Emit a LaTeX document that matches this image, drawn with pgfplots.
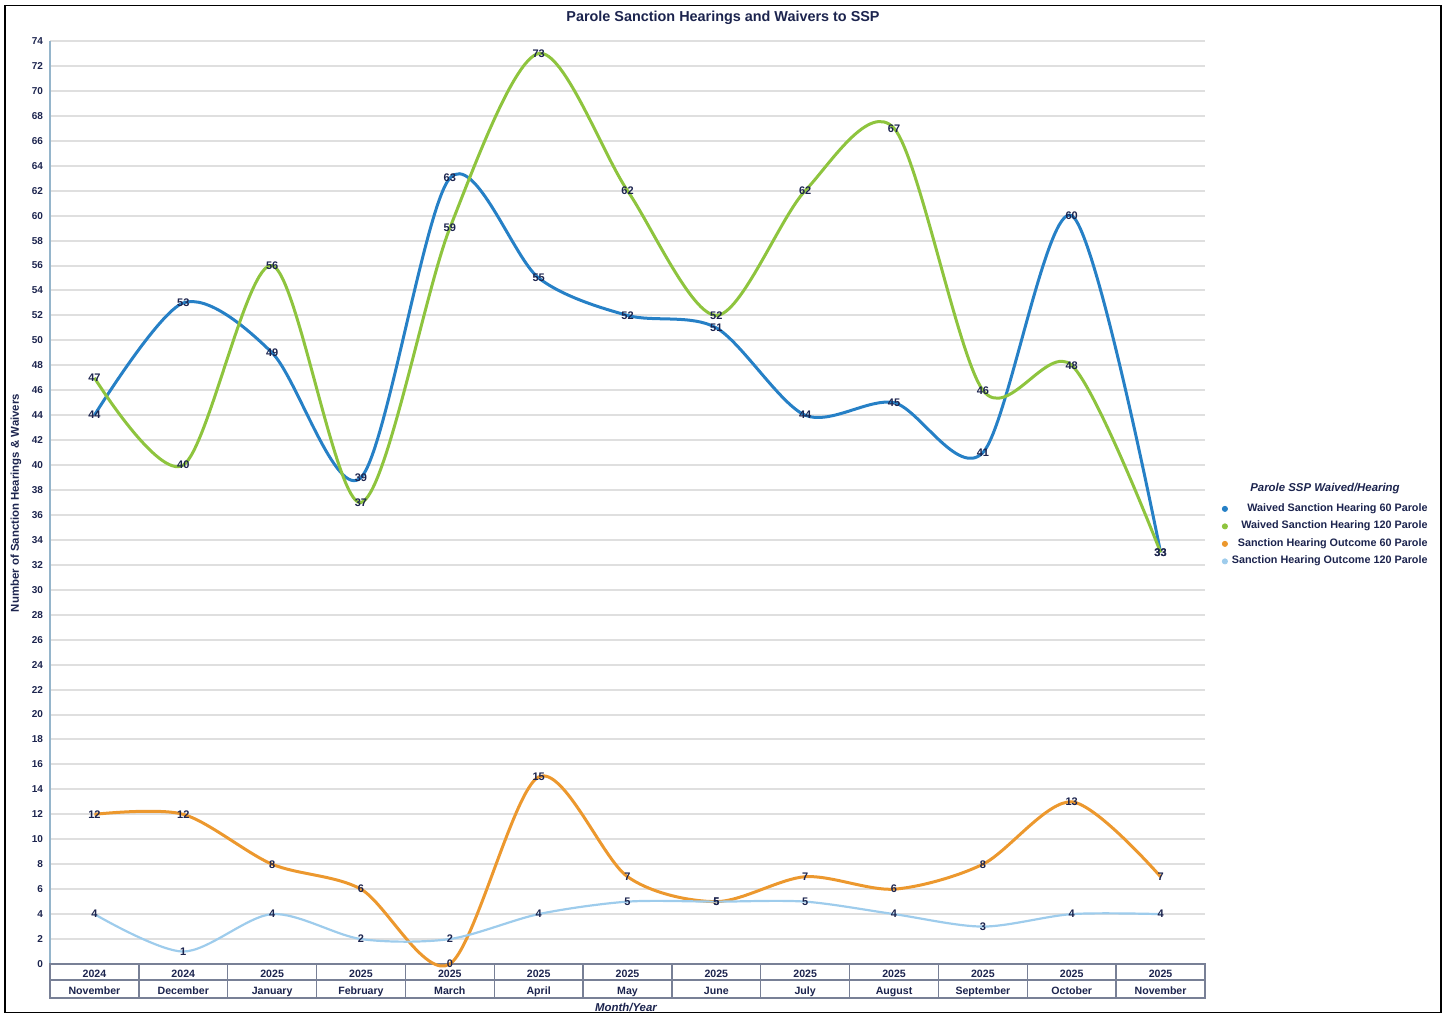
\documentclass[border=0pt]{standalone}
\usepackage{pgfplots}
\pgfplotsset{compat=1.18}
\usepackage{fontspec}
\setmainfont{Liberation Sans}
\definecolor{blueA}{RGB}{38,128,198}
\definecolor{greenA}{RGB}{142,196,62}
\definecolor{orangeA}{RGB}{236,152,46}
\definecolor{lblueA}{RGB}{158,204,236}
\definecolor{navy}{RGB}{28,36,78}
\definecolor{tablecol}{RGB}{120,128,150}
\begin{document}
\begin{tikzpicture}[x=1pt,y=1pt]
\path[use as bounding box] (0,0) rectangle (723,507);
\draw[black, line width=0.6pt] (2.5,0.8) rectangle (720.5,504.2);
\node[font=\bfseries\fontsize{7.2}{8}\selectfont, text=navy] at (361.5,498) {Parole Sanction Hearings and Waivers to SSP};
\node[font=\bfseries\fontsize{5.7}{6}\selectfont, text=navy, rotate=90] at (8,255.5) {Number of Sanction Hearings \& Waivers};
\node[font=\bfseries\itshape\fontsize{5.7}{6}\selectfont, text=navy] at (313,3.5) {Month/Year};
\node[font=\bfseries\itshape\fontsize{5.7}{6}\selectfont, text=navy] at (662.5,262.5) {Parole SSP Waived/Hearing};
\begin{axis}[
  at={(25pt,25pt)}, anchor=south west, scale only axis,
  width=577.5pt, height=461.5pt,
  xmin=-0.5, xmax=12.5, ymin=0, ymax=74,
  ytick={0,2,...,74},
  xtick={0,...,12},
  xticklabels={{2024\\November},{2024\\December},{2025\\January},{2025\\February},{2025\\March},{2025\\April},{2025\\May},{2025\\June},{2025\\July},{2025\\August},{2025\\September},{2025\\October},{2025\\November}},
  xticklabel style={align=center, font=\bfseries\fontsize{5.3}{8.6}\selectfont, text=navy, anchor=north, yshift=0.5pt},
  yticklabel style={font=\bfseries\fontsize{5}{6}\selectfont, text=navy},
  /pgf/number format/assume math mode=true,
  ymajorgrids, grid style={gray!25, line width=1pt},
  axis line style={draw=none},
  major tick length=0pt, tick style={draw=none},
  clip=false,
  nodes near coords, nodes near coords align=center,
  every node near coord/.append style={font=\bfseries\fontsize{5.5}{6}\selectfont, text=navy, anchor=center},
  legend image code/.code={\fill[#1] (0.15cm,0pt) circle (1.3pt);},
  legend style={at={(1.1965,0.4984)}, anchor=north east, draw=none, fill=none, inner sep=0pt,
    font=\bfseries\fontsize{5.4}{6}\selectfont, text=navy, cells={anchor=east},
    row sep=4.25pt, nodes={inner xsep=2pt, inner ysep=0pt, text height=3.5pt, text depth=1pt}},
]
\draw[lblueA!70!gray, line width=0.7pt] (axis cs:-0.5,0) -- (axis cs:-0.5,74);
\draw[tablecol, line width=0.7pt] (axis cs:-0.5,0) rectangle (axis cs:12.5,-2.73);
\draw[tablecol, line width=0.7pt] (axis cs:-0.5,-1.28) -- (axis cs:12.5,-1.28);
\pgfplotsinvokeforeach{0.5,1.5,2.5,3.5,4.5,5.5,6.5,7.5,8.5,9.5,10.5,11.5}{
  \draw[tablecol, line width=0.7pt] (axis cs:#1,0) -- (axis cs:#1,-2.73);
}
\addplot[smooth, blueA, line width=1.5pt, forget plot] coordinates {
 (0,44) (1,53) (2,49) (3,39) (4,63) (5,55) (6,52) (7,51) (8,44) (9,45) (10,41) (11,60) (12,33)};
\addplot[smooth, greenA, line width=1.5pt, forget plot] coordinates {
 (0,47) (1,40) (2,56) (3,37) (4,59) (5,73) (6,62) (7,52) (8,62) (9,67) (10,46) (11,48) (12,33)};
\addplot[smooth, orangeA, line width=1.5pt, forget plot] coordinates {
 (0,12) (1,12) (2,8) (3,6) (4,0) (5,15) (6,7) (7,5) (8,7) (9,6) (10,8) (11,13) (12,7)};
\addplot[smooth, lblueA, line width=1.1pt, forget plot] coordinates {
 (0,4) (1,1) (2,4) (3,2) (4,2) (5,4) (6,5) (7,5) (8,5) (9,4) (10,3) (11,4) (12,4)};
\addlegendimage{blueA}\addlegendentry{Waived Sanction Hearing 60 Parole}
\addlegendimage{greenA}\addlegendentry{Waived Sanction Hearing 120 Parole}
\addlegendimage{orangeA}\addlegendentry{Sanction Hearing Outcome 60 Parole}
\addlegendimage{lblueA}\addlegendentry{Sanction Hearing Outcome 120 Parole}
\end{axis}
\end{tikzpicture}
\end{document}
